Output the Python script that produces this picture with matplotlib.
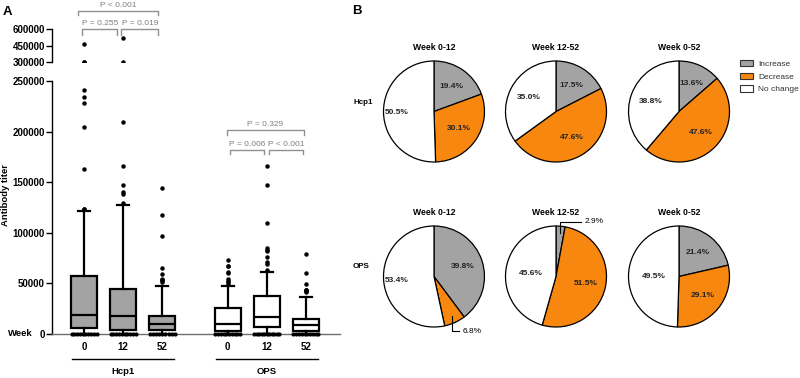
import matplotlib
matplotlib.use('Agg')
import matplotlib.pyplot as plt
from matplotlib.patches import Patch
import numpy as np

plt.rcParams['font.family'] = ['Liberation Sans', 'DejaVu Sans']

# ---- panel A data ----
groups = ['Hcp1', 'OPS']
weeks = ['0', '12', '52']
q1 = [6000, 3800, 3800, 2800, 6700, 2800]
med = [19000, 17500, 9600, 9600, 17000, 8400]
q3 = [57000, 44000, 18200, 26000, 37500, 15000]
whi = [122000, 127000, 47000, 47000, 61000, 37000]
wlo = [0, 0, 0, 0, 0, 0]
fliers = [
    [466000, 300000, 300000, 241000, 234000, 228000, 205000, 163000, 124000, 124000],
    [524000, 300000, 209000, 166000, 147000, 140000, 138000, 129500],
    [144000, 118000, 97000, 65000, 59000, 54000, 53500, 53000, 51000],
    [73000, 67500, 67000, 61000, 60500, 54700, 52000, 51500, 49500],
    [166000, 147000, 110000, 85000, 83000, 82000, 76000, 71000, 69000, 63000],
    [79500, 60000, 49400, 43800, 43400, 43000, 42000, 41800],
]
zero_counts = [10, 10, 9, 10, 11, 10]
pvals_hcp1 = ['P = 0.255', 'P = 0.019', 'P < 0.001']
pvals_ops = ['P = 0.006', 'P < 0.001', 'P = 0.329']

# ---- panel B data ----
categories = ['Increase', 'Decrease', 'No change']
pie_titles = ['Week 0-12', 'Week 12-52', 'Week 0-52']
hcp1_pct = [[19.4, 30.1, 50.5], [17.5, 47.6, 35.0], [13.6, 47.6, 38.8]]
ops_pct = [[39.8, 6.8, 53.4], [2.9, 51.5, 45.6], [21.4, 29.1, 49.5]]

gray = '#a3a3a3'
orange = '#f7870f'
pie_colors = [gray, orange, 'white']
pcol = '#7f7f7f'

W, H = 800, 378
fig = plt.figure(figsize=(W / 100, H / 100), dpi=100)

def fx(px):
    return px / W

def fy(py):
    return 1 - py / H

pos = [1, 2, 3, 4.67, 5.67, 6.67]
xlim = (0.18, 7.54)

ax = fig.add_axes([fx(52), fy(334), fx(340 - 52), (334 - 81) / H])
axt = fig.add_axes([fx(52), fy(62.3), fx(340 - 52), 33 / H])

stats = []
for i in range(6):
    stats.append(dict(q1=q1[i], med=med[i], q3=q3[i], whislo=wlo[i], whishi=whi[i],
                      fliers=fliers[i]))

for a in (ax, axt):
    b = a.bxp(stats, positions=pos, widths=0.66, capwidths=0.3, patch_artist=True,
              boxprops=dict(edgecolor='black', linewidth=1.6),
              medianprops=dict(color='black', linewidth=1.6),
              whiskerprops=dict(color='black', linewidth=1.6),
              capprops=dict(color='black', linewidth=1.6),
              flierprops=dict(marker='o', markersize=2.2, markerfacecolor='black',
                              markeredgecolor='black'))
    for i, box in enumerate(b['boxes']):
        box.set_facecolor(gray if i < 3 else 'white')
    a.set_xlim(*xlim)
    for s in ['top', 'right']:
        a.spines[s].set_visible(False)

# zero values row
for i in range(6):
    xs = pos[i] + np.linspace(-0.32, 0.32, zero_counts[i])
    ax.plot(xs, np.zeros(zero_counts[i]), 'o', color='black', markersize=2.0,
            clip_on=False, zorder=5)

ax.set_ylim(0, 250000)
ax.set_yticks(np.arange(0, 250001, 50000))
ax.set_yticklabels([str(v) for v in np.arange(0, 250001, 50000)])
ax.spines['left'].set_linewidth(1.0)
ax.spines['bottom'].set_color('#6f6f6f')
ax.spines['bottom'].set_linewidth(1.0)
ax.set_xticks(pos)
ax.set_xticklabels(weeks * 2)
ax.tick_params(axis='x', length=0, pad=6, labelsize=7)
ax.tick_params(axis='y', length=4, width=1, pad=1, labelsize=7)
for t in ax.get_xticklabels() + ax.get_yticklabels():
    t.set_fontweight('bold')

axt.set_ylim(300000, 600000)
axt.set_yticks([300000, 450000, 600000])
axt.set_yticklabels(['300000', '450000', '600000'])
axt.spines['bottom'].set_visible(False)
axt.spines['left'].set_linewidth(1.0)
axt.set_xticks([])
axt.tick_params(axis='y', length=4, width=1, pad=1, labelsize=7)
for t in axt.get_yticklabels():
    t.set_fontweight('bold')

# group underlines and labels
tr = ax.get_xaxis_transform()
for g, name in enumerate(groups):
    c = np.mean(pos[g * 3:g * 3 + 3])
    ax.plot([c - 1.3, c + 1.3], [-0.1, -0.1], color='black', lw=1, transform=tr,
            clip_on=False)
    ax.text(c, -0.149, name, transform=tr, ha='center', va='center',
            fontsize=6.8, fontweight='bold')

fig.text(fx(8), fy(333), 'Week', fontsize=6.8, fontweight='bold', va='center')
fig.text(fx(5.5), fy(195), 'Antibody titer', rotation=90, fontsize=6.8, fontweight='bold',
         ha='center', va='center')


def bracket(a, x1, x2, y, drop, label):
    a.plot([x1, x1, x2, x2], [y - drop, y, y, y - drop], color='#909090', lw=1,
           clip_on=False)
    a.annotate(label, ((x1 + x2) / 2, y), xytext=(0, 1.5), textcoords='offset points',
               ha='center', va='bottom', fontsize=6, color=pcol, annotation_clip=False)


# Hcp1 brackets on top segment
bracket(axt, pos[0] - 0.05, pos[1] - 0.15, 600000, 50000, pvals_hcp1[0])
bracket(axt, pos[1] - 0.05, pos[2] - 0.1, 600000, 50000, pvals_hcp1[1])
bracket(axt, pos[0] - 0.15, pos[2] - 0.1, 766000, 36000, pvals_hcp1[2])
# OPS brackets
bracket(ax, pos[3] + 0.07, pos[4] - 0.07, 181800, 3500, pvals_ops[0])
bracket(ax, pos[4] + 0.05, pos[5] - 0.07, 181800, 3500, pvals_ops[1])
bracket(ax, pos[3] - 0.03, pos[5] - 0.05, 201600, 4600, pvals_ops[2])

fig.text(fx(3), fy(12), 'A', fontsize=9.5, fontweight='bold', va='center')
fig.text(fx(352), fy(11), 'B', fontsize=9.5, fontweight='bold', va='center')

# ---- pies ----
r = 50.5
cxs = [434, 556, 679]
cys = [111.5, 276.5]
rows = [hcp1_pct, ops_pct]
row_names = ['Hcp1', 'OPS']
inner_r = {(0, 0, 2): 0.73, (1, 0, 2): 0.74, (1, 1, 2): 0.5, (1, 2, 2): 0.5}

for ri, data in enumerate(rows):
    fig.text(fx(353), fy(cys[ri] - 9.5), row_names[ri], fontsize=5.8, fontweight='bold',
             va='center')
    for ci, vals in enumerate(data):
        cx, cy = cxs[ci], cys[ri]
        pa = fig.add_axes([fx(cx - r), fy(cy + r), 2 * r / W, 2 * r / H])
        wedges, _ = pa.pie(vals, colors=pie_colors, startangle=90, counterclock=False,
                           wedgeprops=dict(edgecolor='black', linewidth=0.9))
        pa.set_xlim(-1, 1)
        pa.set_ylim(-1, 1)
        for w in wedges:
            w.set_clip_on(False)
        pa.set_title(pie_titles[ci], fontsize=6.2, fontweight='bold', pad=8)
        for k, w in enumerate(wedges):
            th = np.deg2rad((w.theta1 + w.theta2) / 2)
            lab = '%.1f%%' % vals[k]
            if vals[k] < 8:
                sx, sy = 0.87 * np.cos(th), 0.87 * np.sin(th)
                ey = 1.08 if sy > 0 else -1.08
                pa.plot([sx, sx, 0.5], [sy, ey, ey], color='black', lw=0.8,
                        clip_on=False)
                pa.text(0.57, ey, lab, fontsize=6, va='center', ha='left')
            else:
                rr = inner_r.get((ri, ci, k), 0.6)
                pa.text(rr * np.cos(th), rr * np.sin(th), lab, fontsize=6,
                        fontweight='bold', ha='center', va='center', color='#222222')

handles = [Patch(facecolor=c, edgecolor='#333333', linewidth=0.8) for c in pie_colors]
fig.legend(handles, categories, loc='upper left', bbox_to_anchor=(fx(740), fy(60)),
           frameon=False, fontsize=6, handlelength=1.6, handleheight=0.8,
           labelspacing=0.55, handletextpad=0.6, borderaxespad=0, borderpad=0,
           labelcolor='#333333')

fig.savefig('out.png', dpi=100)
